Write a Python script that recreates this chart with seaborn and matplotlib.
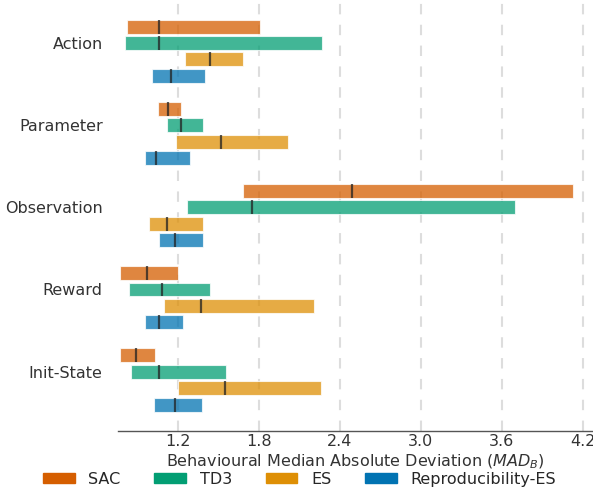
import matplotlib
matplotlib.use("Agg")
import matplotlib.pyplot as plt
import matplotlib.patches as mpatches
import seaborn as sns
import numpy as np

# Datos
categorias = ['Action', 'Parameter', 'Observation', 'Reward', 'Init-State']
metodos = ['SAC', 'TD3', 'ES', 'Reproducibility-ES']

sac_min = [0.82, 1.05, 1.68, 0.77, 0.77]
sac_max = [1.81, 1.22, 4.13, 1.20, 1.03]
sac_med = [1.06, 1.13, 2.49, 0.97, 0.89]

td3_min = [0.81, 1.12, 1.27, 0.84, 0.85]
td3_max = [2.27, 1.39, 3.70, 1.44, 1.56]
td3_med = [1.06, 1.22, 1.75, 1.08, 1.06]

es_min = [1.25, 1.19, 0.99, 1.10, 1.20]
es_max = [1.68, 2.02, 1.39, 2.21, 2.26]
es_med = [1.44, 1.52, 1.12, 1.37, 1.55]

rep_min = [1.01, 0.96, 1.06, 0.96, 1.02]
rep_max = [1.40, 1.29, 1.39, 1.24, 1.38]
rep_med = [1.15, 1.04, 1.18, 1.06, 1.18]

sns.set_theme(style='whitegrid')
pal = sns.color_palette('colorblind')
colores = [pal[3], pal[2], pal[1], pal[0]]   # SAC, TD3, ES, Repro-ES

fig = plt.figure(figsize=(5.93, 4.91), dpi=100)
ax = fig.add_axes([0.199, 0.122, 0.801, 0.878])

series = [(sac_min, sac_max, sac_med), (td3_min, td3_max, td3_med),
          (es_min, es_max, es_med), (rep_min, rep_max, rep_med)]
y = np.arange(len(categorias))
paso = 0.2
alto = 0.17

for k, (lo, hi, med) in enumerate(series):
    lo = np.array(lo)
    hi = np.array(hi)
    yy = y + (k - 1) * paso
    ax.barh(yy, hi - lo, left=lo, height=alto, color=colores[k], alpha=0.75,
            edgecolor='white', linewidth=0.8, zorder=3)
    ax.vlines(med, yy - alto / 2, yy + alto / 2, color='#222222', alpha=0.75,
              linewidth=1.6, zorder=4)

ax.set_yticks(y)
ax.set_yticklabels(categorias, fontsize=11.5, color='#333333')
ax.invert_yaxis()
ax.set_xlim(0.757, 4.276)
ax.set_xticks([1.2, 1.8, 2.4, 3.0, 3.6, 4.2])
ax.tick_params(axis='x', labelsize=11.5, labelcolor='#333333', length=0, pad=2)
ax.tick_params(axis='y', length=0, pad=11)
ax.set_xlabel('Behavioural Median Absolute Deviation ($MAD_B$)', fontsize=11.5,
              color='#333333', labelpad=2.5)

ax.grid(axis='y', visible=False)
ax.grid(axis='x', linestyle=(0, (5, 5)), color='#dddddd', linewidth=1.5, zorder=0)
sns.despine(ax=ax, left=True)
ax.spines['bottom'].set_color('#555555')
ax.spines['bottom'].set_linewidth(1.0)

handles = [mpatches.Patch(color=c, label=m) for c, m in zip(colores, metodos)]
fig.legend(handles=handles, loc='center', ncol=4, frameon=False,
           bbox_to_anchor=(0.505, 0.024), fontsize=11.5, handlelength=2.0,
           handleheight=0.65, handletextpad=0.85, columnspacing=2.1,
           borderpad=0, labelcolor='#262626')

plt.savefig('out.png', dpi=100)
